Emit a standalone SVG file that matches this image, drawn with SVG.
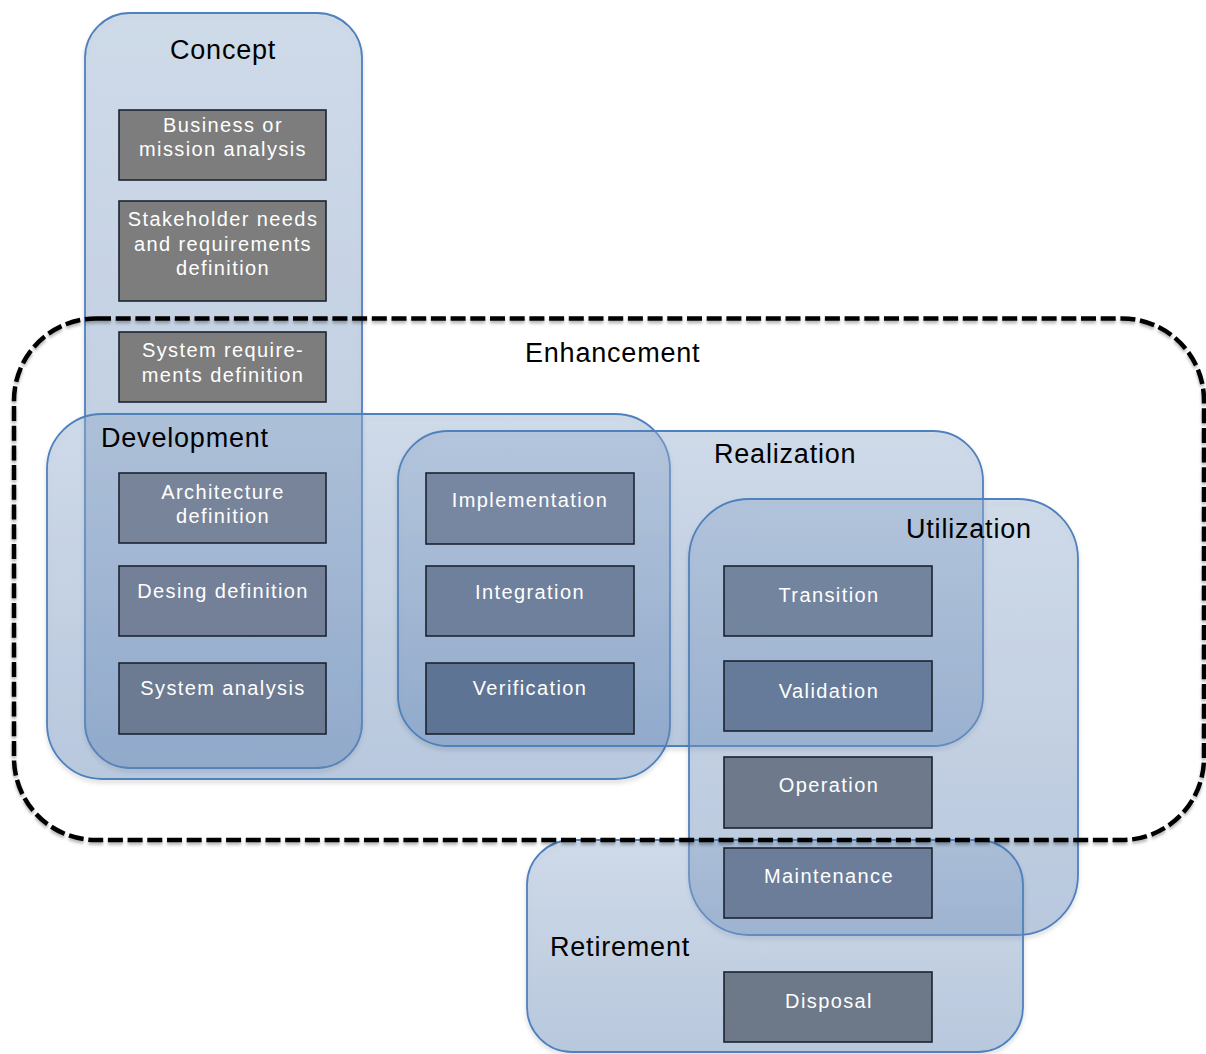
<svg xmlns="http://www.w3.org/2000/svg" width="1206" height="1054" viewBox="0 0 1206 1054">
<defs>
<linearGradient id="rg" x1="0" y1="0" x2="0" y2="1">
<stop offset="0" stop-color="#9ab4d6" stop-opacity="0.4"/>
<stop offset="1" stop-color="#6389bb" stop-opacity="0.4"/>
</linearGradient>
<filter id="sh" x="-5%" y="-5%" width="110%" height="110%">
<feDropShadow dx="0" dy="3" stdDeviation="2" flood-color="#000" flood-opacity="0.18"/>
</filter>
<filter id="dsh" x="-2%" y="-2%" width="104%" height="106%">
<feDropShadow dx="0" dy="2.5" stdDeviation="1.5" flood-color="#000" flood-opacity="0.3"/>
</filter>
<style>
.region{fill:url(#rg);stroke:#4f81bd;stroke-width:1.8;filter:url(#sh)}
.box{stroke:#1c2330;stroke-width:1.6}
.btxt{font-family:"Liberation Sans",Arial,sans-serif;font-size:20px;letter-spacing:1.4px;fill:#ffffff;text-anchor:middle}
.title{font-family:"Liberation Sans",Arial,sans-serif;font-size:27px;letter-spacing:0.8px;fill:#000000}
.enh{fill:none;stroke:#000;stroke-width:4.5;stroke-dasharray:15 4.7;filter:url(#dsh)}
</style>
</defs>

<g id="concept">
<rect class="region" x="85" y="13" width="277" height="755" rx="45"/>
<text class="title" x="170" y="59">Concept</text>
</g>
<g id="business-mission-analysis">
<rect class="box" x="119" y="110" width="207" height="70" fill="#7d7d7d"/>
<text class="btxt" x="223" y="132">Business or</text>
<text class="btxt" x="223" y="156">mission analysis</text>
</g>
<g id="stakeholder-needs">
<rect class="box" x="119" y="201" width="207" height="100" fill="#7d7d7d"/>
<text class="btxt" x="223" y="226">Stakeholder needs</text>
<text class="btxt" x="223" y="251">and requirements</text>
<text class="btxt" x="223" y="275">definition</text>
</g>
<g id="system-requirements">
<rect class="box" x="119" y="332" width="207" height="70" fill="#7d7d7d"/>
<text class="btxt" x="223" y="357">System require-</text>
<text class="btxt" x="223" y="382">ments definition</text>
</g>

<g id="development">
<rect class="region" x="47" y="414" width="623" height="365" rx="55"/>
<text class="title" x="101" y="447">Development</text>
</g>
<g id="realization">
<rect class="region" x="398" y="431" width="585" height="315" rx="50"/>
<text class="title" x="714" y="463">Realization</text>
</g>
<g id="utilization">
<rect class="region" x="689" y="499" width="389" height="436" rx="60"/>
<text class="title" x="906" y="538">Utilization</text>
</g>
<g id="retirement">
<rect class="region" x="527" y="840" width="496" height="212" rx="45"/>
<text class="title" x="550" y="956">Retirement</text>
</g>

<g id="architecture-definition">
<rect class="box" x="119" y="473" width="207" height="70" fill="#78849a"/>
<text class="btxt" x="223" y="499">Architecture</text>
<text class="btxt" x="223" y="523">definition</text>
</g>
<g id="desing-definition">
<rect class="box" x="119" y="566" width="207" height="70" fill="#738098"/>
<text class="btxt" x="223" y="598">Desing definition</text>
</g>
<g id="system-analysis">
<rect class="box" x="119" y="663" width="207" height="71" fill="#6c7a92"/>
<text class="btxt" x="223" y="695">System analysis</text>
</g>

<g id="implementation">
<rect class="box" x="426" y="473" width="208" height="71" fill="#7787a1"/>
<text class="btxt" x="530" y="507">Implementation</text>
</g>
<g id="integration">
<rect class="box" x="426" y="566" width="208" height="70" fill="#6e809b"/>
<text class="btxt" x="530" y="599">Integration</text>
</g>
<g id="verification">
<rect class="box" x="426" y="663" width="208" height="71" fill="#5e7494"/>
<text class="btxt" x="530" y="695">Verification</text>
</g>

<g id="transition">
<rect class="box" x="724" y="566" width="208" height="70" fill="#73849f"/>
<text class="btxt" x="829" y="602">Transition</text>
</g>
<g id="validation">
<rect class="box" x="724" y="661" width="208" height="70" fill="#667a99"/>
<text class="btxt" x="829" y="698">Validation</text>
</g>
<g id="operation">
<rect class="box" x="724" y="757" width="208" height="71" fill="#6e7a8c"/>
<text class="btxt" x="829" y="792">Operation</text>
</g>
<g id="maintenance">
<rect class="box" x="724" y="848" width="208" height="70" fill="#6b7d99"/>
<text class="btxt" x="829" y="883">Maintenance</text>
</g>
<g id="disposal">
<rect class="box" x="724" y="972" width="208" height="70" fill="#6d7889"/>
<text class="btxt" x="829" y="1008">Disposal</text>
</g>

<g id="enhancement">
<rect class="enh" x="14" y="318.5" width="1190" height="521.5" rx="82"/>
<text class="title" x="525" y="362">Enhancement</text>
</g>

<g id="connectors"></g>
</svg>
